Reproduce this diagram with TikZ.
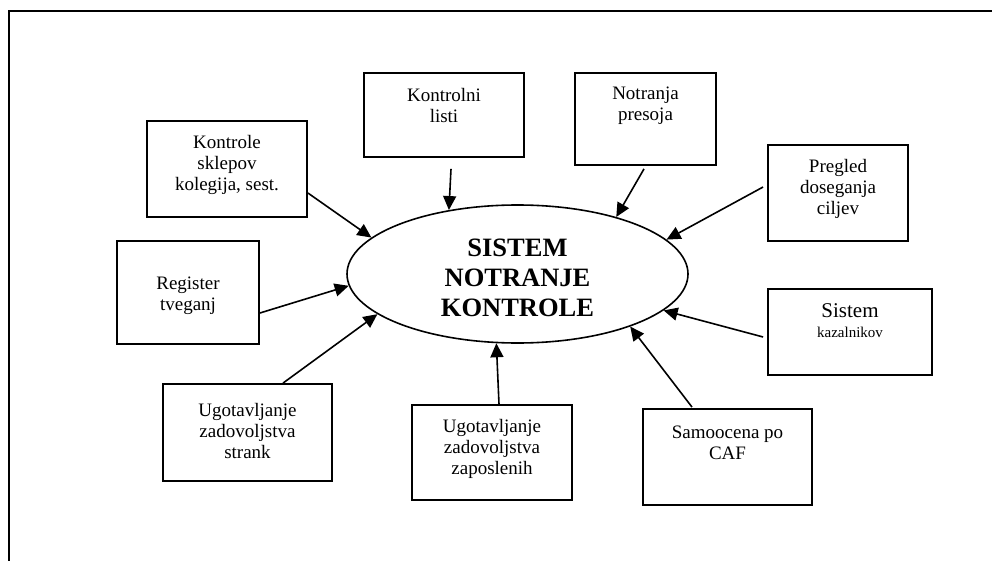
\documentclass[tikz,border=0pt]{standalone}
\usepackage{fontspec}
\setmainfont{Liberation Serif}
\usetikzlibrary{arrows.meta,shapes.geometric}
\begin{document}
\begin{tikzpicture}[x=1pt,y=-1pt,
  box/.style={draw,line width=1.8pt,rectangle,inner sep=0pt},
  lbl/.style={align=center,inner sep=0pt,font=\fontsize{19}{21}\selectfont},
  feed/.style={line width=1.6pt,-{Triangle[length=14pt,width=13pt]}}]
\useasboundingbox (0,0) rectangle (992,561);
\fill[white] (0,0) rectangle (992,561);
% page frame (top and left edges)
\draw[line width=2pt] (992,11) -- (9,11) -- (9,561);

% central ellipse
\node[draw,ellipse,line width=1.6pt,minimum width=341pt,minimum height=138pt,inner sep=0pt] (sys) at (517.5,274) {};
\node[align=center,inner sep=0pt,font=\fontsize{26.5}{30}\selectfont\bfseries] (sys-t) at (517.5,278) {SISTEM\\NOTRANJE\\KONTROLE};

% surrounding boxes
\node[box,minimum width=160pt,minimum height=96pt] (k1) at (227,169) {};
\node[lbl] (k1-t) at (227,165) {Kontrole\\sklepov\\kolegija, sest.};

\node[box,minimum width=160pt,minimum height=84pt] (kl) at (444,115) {};
\node[lbl] (kl-t) at (444,105.5) {Kontrolni\\listi};

\node[box,minimum width=141pt,minimum height=92pt] (np) at (645.5,119) {};
\node[lbl] (np-t) at (645.5,105.5) {Notranja\\presoja};

\node[box,minimum width=140pt,minimum height=96pt] (pc) at (838,193) {};
\node[lbl] (pc-t) at (838,189) {Pregled\\doseganja\\ciljev};

\node[box,minimum width=164pt,minimum height=86pt] (sk) at (850,332) {};
\node[align=center,inner sep=0pt,font=\fontsize{15}{20}\selectfont] (sk-t) at (850,321) {{\fontsize{21}{20}\selectfont Sistem}\\kazalnikov};

\node[box,minimum width=169pt,minimum height=96pt] (sc) at (727.5,457) {};
\node[lbl] (sc-t) at (727.5,442.5) {Samoocena po\\CAF};

\node[box,minimum width=160pt,minimum height=95pt] (uz) at (492,452.5) {};
\node[lbl] (uz-t) at (492,449) {Ugotavljanje\\zadovoljstva\\zaposlenih};

\node[box,minimum width=169pt,minimum height=97pt] (us) at (247.5,432.5) {};
\node[lbl] (us-t) at (247.5,431) {Ugotavljanje\\zadovoljstva\\strank};

\node[box,minimum width=142pt,minimum height=103pt] (rt) at (188,292.5) {};
\node[lbl] (rt-t) at (188,295.5) {Register\\tveganj};

% arrows into the ellipse
\draw[feed] ([yshift=-24pt]k1.east) -- (sys.166.3);
\draw[feed] ([xshift=7pt,yshift=-11pt]kl.south) -- (sys.137.9);
\draw[feed] ([xshift=-1.5pt,yshift=-3pt]np.south) -- (sys.30.2);
\draw[feed] ([xshift=-4pt,yshift=6pt]pc.west) -- (sys.13.1);
\draw[feed] ([xshift=-4pt,yshift=-5pt]sk.west) -- (sys.-14.5);
\draw[feed] ([xshift=-35.5pt,yshift=1pt]sc.north) -- (sys.-25.2);
\draw[feed] ([xshift=7pt]uz.north) -- (sys.253.6);
\draw[feed] ([xshift=35.5pt]us.north) -- (sys.196.3);
\draw[feed] ([yshift=-20.5pt]rt.east) -- (sys.184.5);
\end{tikzpicture}
\end{document}
